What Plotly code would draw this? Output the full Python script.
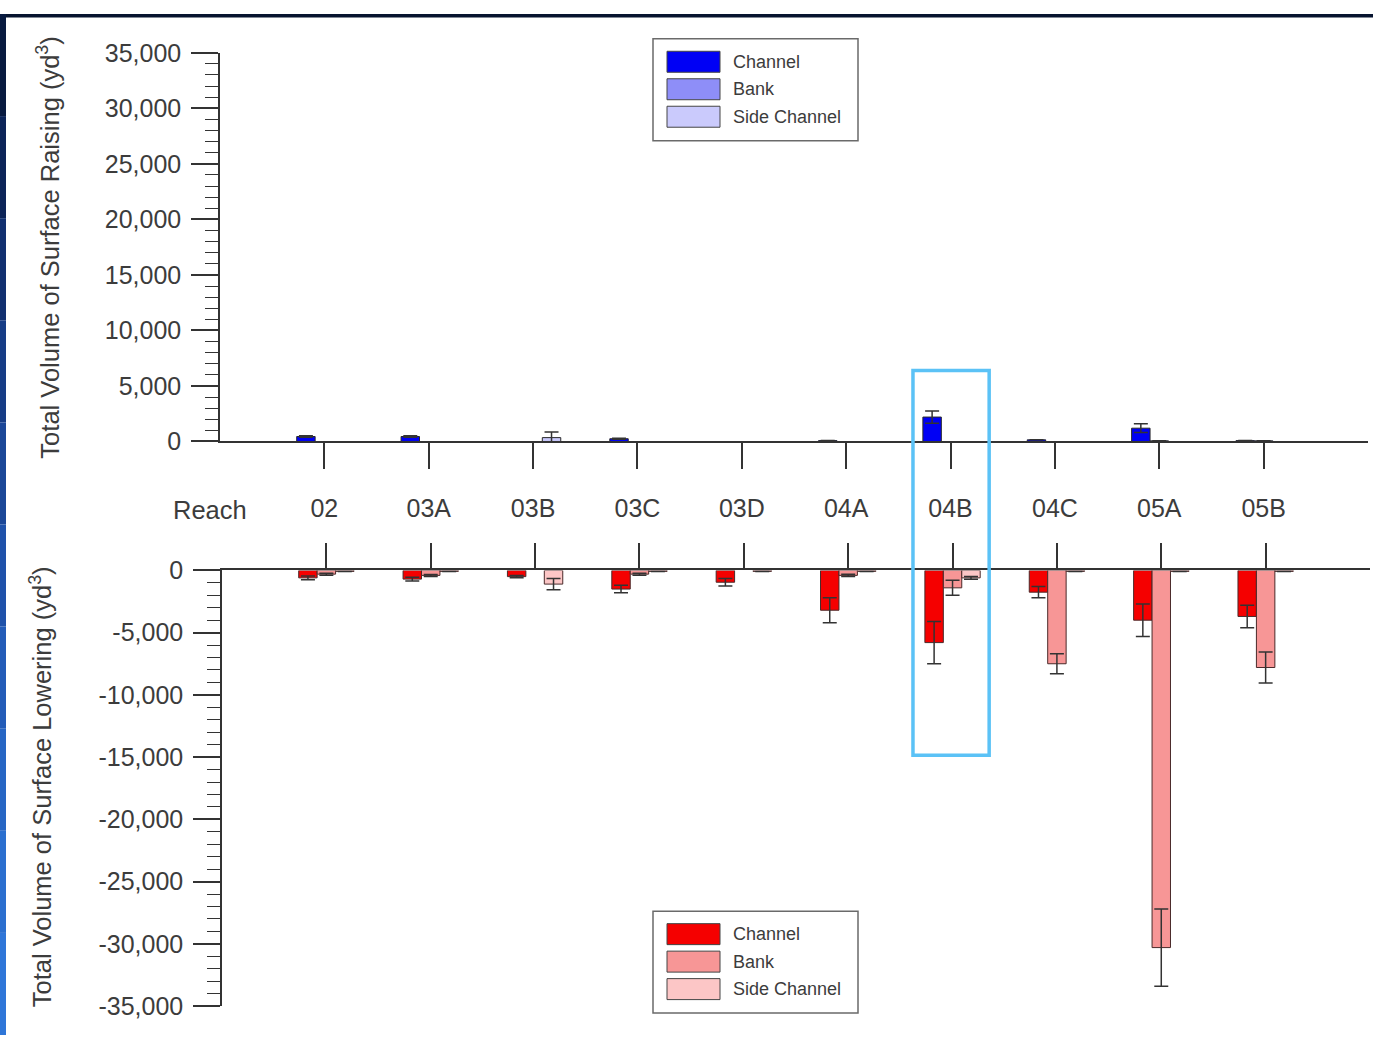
import plotly.graph_objects as go

# ---------------- data ----------------
reaches = ["02", "03A", "03B", "03C", "03D", "04A", "04B", "04C", "05A", "05B"]
series_names = ["Channel", "Bank", "Side Channel"]

raise_channel = [450, 450, None, 250, None, 80, 2200, 150, 1200, 80]
raise_channel_err = [60, 60, 0, 50, 0, 0, 550, 0, 400, 0]
raise_bank = [None, None, None, None, None, None, None, None, 60, 60]
raise_bank_err = [0, 0, 0, 0, 0, 0, 0, 0, 0, 0]
raise_side = [None, None, 350, None, None, None, None, None, None, None]
raise_side_err = [0, 0, 500, 0, 0, 0, 0, 0, 0, 0]

lower_channel = [-600, -700, -500, -1500, -950, -3200, -5800, -1750, -4000, -3700]
lower_channel_err = [150, 150, 100, 300, 300, 1000, 1700, 450, 1300, 900]
lower_bank = [-300, -400, None, -300, None, -400, -1400, -7500, -30300, -7800]
lower_bank_err = [80, 80, 0, 80, 0, 100, 600, 800, 3100, 1250]
lower_side = [-80, -80, -1100, -80, -80, -80, -600, -80, -80, -80]
lower_side_err = [0, 0, 450, 0, 0, 0, 120, 0, 0, 0]

raise_colors = ["#0000F5", "#8E8EF8", "#CACAFC"]
lower_colors = ["#F50000", "#F79696", "#FCC6C6"]

y_ticks_top = [0, 5000, 10000, 15000, 20000, 25000, 30000, 35000]
y_ticktext_top = ["0", "5,000", "10,000", "15,000", "20,000", "25,000", "30,000", "35,000"]
y_ticks_bottom = [0, -5000, -10000, -15000, -20000, -25000, -30000, -35000]
y_ticktext_bottom = ["0", "-5,000", "-10,000", "-15,000", "-20,000", "-25,000", "-30,000", "-35,000"]

# ---------------- layout helpers ----------------
W, H = 1373, 1049
# the photographed page shows the figure slightly offset/compressed vertically;
# map wanted screen pixel rows to paper coordinates accordingly
Y_OFF, Y_SCALE = 14.2, 0.974


def px(x):
    return x / W


def py(y):
    return 1 - ((y - Y_OFF) / Y_SCALE) / H


TXT = "#3c3c3c"
AX = "#333333"
FONT = "Liberation Sans, Arial, sans-serif"

fig = go.Figure()

top_sets = [(raise_channel, raise_channel_err), (raise_bank, raise_bank_err), (raise_side, raise_side_err)]
for name, (vals, errs), col in zip(series_names, top_sets, raise_colors):
    fig.add_trace(go.Bar(
        x=reaches, y=vals, name=name, xaxis="x", yaxis="y",
        marker=dict(color=col, line=dict(color="#2a2a2a", width=1)),
        error_y=dict(type="data", array=errs, visible=True, color=AX, thickness=1.5, width=7),
        showlegend=False,
    ))

bot_sets = [(lower_channel, lower_channel_err), (lower_bank, lower_bank_err), (lower_side, lower_side_err)]
for name, (vals, errs), col in zip(series_names, bot_sets, lower_colors):
    fig.add_trace(go.Bar(
        x=reaches, y=vals, name=name, xaxis="x2", yaxis="y2",
        marker=dict(color=col, line=dict(color="#4a2a2a", width=1)),
        error_y=dict(type="data", array=errs, visible=True, color=AX, thickness=1.5, width=7),
        showlegend=False,
    ))

yaxis_common = dict(
    showline=True, linecolor=AX, linewidth=1.5,
    ticks="outside", ticklen=27, tickwidth=1.5, tickcolor=AX,
    tickfont=dict(size=25, color=TXT, family=FONT), ticklabelstandoff=5,
    showgrid=False, zeroline=False,
    minor=dict(dtick=1000, ticks="outside", ticklen=13, tickwidth=1.2, tickcolor=AX, showgrid=False),
)

fig.update_layout(
    width=W, height=H, autosize=False,
    margin=dict(l=0, r=0, t=0, b=0, pad=0),
    paper_bgcolor="white", plot_bgcolor="white",
    barmode="group", bargap=0.47, bargroupgap=0,
    font=dict(family=FONT, color=TXT),
    xaxis=dict(
        domain=[px(220), px(1368)], anchor="y", range=[-1, 10],
        showline=True, linecolor=AX, linewidth=1.5,
        ticks="outside", ticklen=26, tickwidth=1.5, tickcolor=AX,
        tickfont=dict(size=25, color=TXT, family=FONT), ticklabelstandoff=18,
        showgrid=False, zeroline=False,
    ),
    yaxis=dict(domain=[py(442), py(53)], anchor="x", range=[0, 35000],
               tickvals=y_ticks_top, ticktext=y_ticktext_top, **yaxis_common),
    xaxis2=dict(
        domain=[px(222), px(1370)], anchor="y2", range=[-1, 10], side="top",
        showline=True, linecolor=AX, linewidth=1.5,
        ticks="outside", ticklen=26, tickwidth=1.5, tickcolor=AX,
        showticklabels=False, showgrid=False, zeroline=False,
    ),
    yaxis2=dict(domain=[py(1007), py(571)], anchor="x2", range=[-35000, 0],
                tickvals=y_ticks_bottom, ticktext=y_ticktext_bottom, **yaxis_common),
)

shapes = []
annotations = []

# axis titles & "Reach"
annotations.append(dict(x=px(48), y=py(248), xref="paper", yref="paper", textangle=-90,
                        text="Total Volume of Surface Raising (yd<sup>3</sup>)", showarrow=False,
                        font=dict(size=25.5, color=TXT, family=FONT), xanchor="center", yanchor="middle"))
annotations.append(dict(x=px(41), y=py(788), xref="paper", yref="paper", textangle=-90,
                        text="Total Volume of Surface Lowering (yd<sup>3</sup>)", showarrow=False,
                        font=dict(size=25.5, color=TXT, family=FONT), xanchor="center", yanchor="middle"))
annotations.append(dict(x=px(210), y=py(511), xref="paper", yref="paper", text="Reach", showarrow=False,
                        font=dict(size=25.5, color=TXT, family=FONT), xanchor="center", yanchor="middle"))


# custom legends (large swatches)
def add_legend(top, colors):
    shapes.append(dict(type="rect", xref="paper", yref="paper", x0=px(653), x1=px(858),
                       y0=py(top + 102), y1=py(top), line=dict(color="#6a6a6a", width=1.5),
                       fillcolor="white", layer="above"))
    for i, (name, col) in enumerate(zip(series_names, colors)):
        cy = top + 23 + i * 27.5
        shapes.append(dict(type="rect", xref="paper", yref="paper", x0=px(667), x1=px(720),
                           y0=py(cy + 10.5), y1=py(cy - 10.5), fillcolor=col,
                           line=dict(color="#444", width=1), layer="above"))
        annotations.append(dict(x=px(731), y=py(cy), xref="paper", yref="paper", text=name,
                                showarrow=False, xanchor="left", yanchor="middle",
                                font=dict(size=18, color=TXT, family=FONT)))


add_legend(39, raise_colors)
add_legend(912, lower_colors)

# highlight box around 04B
shapes.append(dict(type="rect", xref="x", yref="paper", x0=5.64, x1=6.37, y0=py(756), y1=py(371),
                   line=dict(color="#5BC2F6", width=3.5), fillcolor="rgba(0,0,0,0)", layer="above"))

# slide frame: top dark strip and left blue gradient strip
shapes.append(dict(type="rect", xref="paper", yref="paper", x0=0, x1=1, y0=0.9965, y1=1,
                   fillcolor="#07142f", line=dict(width=0), layer="above"))
frame_cols = ["#081a40", "#0c2458", "#113070", "#163c86", "#1b4798", "#1f52aa",
              "#235cb8", "#2766c4", "#2b6fcf", "#2f76d8"]
n = len(frame_cols)
for i, c in enumerate(frame_cols):
    shapes.append(dict(type="rect", xref="paper", yref="paper", x0=0, x1=px(6),
                       y0=1 - (i + 1) / n, y1=1 - i / n, fillcolor=c, line=dict(width=0), layer="above"))

fig.update_layout(shapes=shapes, annotations=annotations)

fig.write_html(
    "out.html",
    config={"displayModeBar": False},
    post_script=(
        "document.documentElement.style.margin='0';"
        "document.body.style.margin='0';document.body.style.padding='0';"
        "document.body.style.overflow='hidden';"
        "var gd=document.getElementById('{plot_id}');"
        "gd.style.position='absolute';gd.style.top='0px';gd.style.left='0px';"
    ),
)
